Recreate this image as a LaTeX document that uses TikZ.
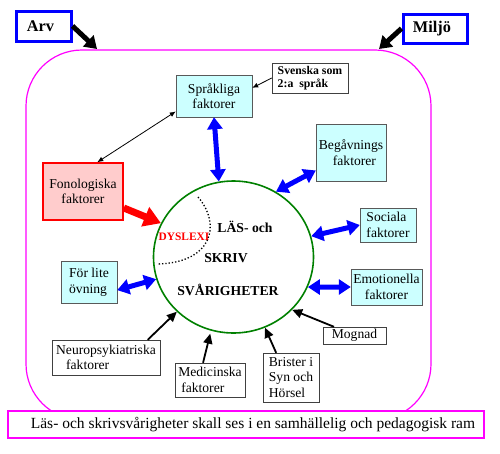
\documentclass[tikz,border=0pt]{standalone}
\usepackage{fontspec}
\setmainfont{Liberation Serif}
\usetikzlibrary{arrows.meta,shadows,shapes.geometric}

\definecolor{ljuscyan}{HTML}{CCFFFF}
\definecolor{ljusrosa}{HTML}{FFCCCC}
\definecolor{ramfarg}{HTML}{FF00FF}
\definecolor{ringfarg}{HTML}{008000}

\tikzset{
  stil diagram/.style={
      x=1pt, y=-1pt,
      every node/.style={font={\fontsize{13.6}{15.5}\selectfont}},
      ruta/.style={draw=black!75, fill=white, inner sep=1pt, align=left,
          drop shadow={shadow xshift=1pt, shadow yshift=-1pt, fill=gray, opacity=.7}},
      faktor/.style={ruta, fill=ljuscyan, draw=gray!70!black},
      huvud/.style={draw=blue, line width=3pt, fill=white, inner sep=1pt,
          font={\bfseries\fontsize{16.3}{18}\selectfont}},
      ringtext/.style={font={\bfseries\fontsize{13.7}{15}\selectfont}},
      dubbelpil/.style={{Triangle[width=15pt,length=12pt]}-{Triangle[width=15pt,length=12pt]},
          blue, line width=5pt},
      tjockpil/.style={-{Triangle[width=15pt,length=12pt]}, line width=5pt},
      rodpil/.style={-{Triangle[width=20pt,length=17pt]}, red, line width=7pt},
      pil/.style={-{Triangle[width=9pt,length=10pt]}, line width=1.8pt},
      tunnpil/.style={-{Latex[width=5pt,length=6pt]}, line width=.8pt},
    },
}

\begin{document}
\begin{tikzpicture}[stil diagram]
  \useasboundingbox (0,0) rectangle (500,453);

  \node[draw=ramfarg, line width=1.2pt, rounded corners=56pt,
        minimum width=405pt, minimum height=370pt] (ram) at (228.5,235) {};
  \node[draw=ramfarg, line width=1.5pt, fill=white, minimum width=476pt,
        minimum height=27pt, font={\fontsize{15.5}{17}\selectfont}] (ramtext) at (246,424.5)
        {\hspace*{14pt}Läs- och skrivsvårigheter skall ses i en samhällelig och pedagogisk ram};

  \node[huvud, minimum width=55pt, minimum height=30pt] (arv) at (43.5,26) {Arv\hspace*{6pt}};
  \node[huvud, minimum width=64pt, minimum height=29pt] (miljo) at (435,28.5) {Miljö\hspace*{6pt}};
  \coordinate (arvmal) at (97,49);
  \coordinate (miljomal) at (379,49);

  \node[ellipse, draw=ringfarg, line width=1.6pt, minimum width=160pt,
        minimum height=152pt] (cirkel) at (233.5,257) {};
  \node[ringtext] (las) at (245,227) {LÄS- och};
  \node[ringtext] (skriv) at (226,258) {SKRIV};
  \node[ringtext] (svar) at (228,290) {SVÅRIGHETER};
  \node[text=red, font={\bfseries\fontsize{11.4}{13}\selectfont}] (dyslexi) at (184,237) {DYSLEXI};
  \draw[dotted, line width=1.3pt] (198,197) .. controls (222,225) and (212,263) .. (157,264);

  \node[faktor, minimum width=76pt, minimum height=42pt, align=center] (sprak) at (214,96) {Språkliga\\ faktorer};
  \node[ruta, minimum width=76pt, minimum height=30pt,
        font={\bfseries\fontsize{11.8}{13}\selectfont}] (svenska) at (310,78) {Svenska som\\2:a\ \ språk};
  \node[faktor, minimum width=70pt, minimum height=57pt, align=center] (begavning) at (351,152.5) {Begåvnings\\ \ \ faktorer};
  \node[ruta, fill=ljusrosa, draw=red, line width=1.5pt, drop shadow={opacity=0},
        minimum width=80pt, minimum height=57pt, align=center] (fono) at (83,191.5) {Fonologiska\\faktorer};
  \node[faktor, minimum width=56pt, minimum height=42pt] (ovning) at (89,282) {För lite\\övning};
  \node[faktor, minimum width=56pt, minimum height=34pt] (sociala) at (388,225) {Sociala\\faktorer};
  \node[faktor, minimum width=71pt, minimum height=36pt, align=center] (emotion) at (386.5,287) {Emotionella\\faktorer};
  \node[ruta, minimum width=108pt, minimum height=35pt] (neuro) at (106,357.5) {Neuropsykiatriska\\\hspace*{10pt}faktorer};
  \node[ruta, minimum width=70pt, minimum height=34pt] (medicin) at (210,380) {Medicinska\\\hspace*{3pt}faktorer};
  \node[ruta, minimum width=56pt, minimum height=49pt] (brister) at (291,377.5) {Brister i\\Syn och\\Hörsel};
  \node[ruta, minimum width=63pt, minimum height=17pt] (mognad) at (354.5,335.5) {Mognad};

  \draw[tjockpil] (arv.east) -- (arvmal);
  \draw[tjockpil] (miljo.west) -- (miljomal);

  \draw[dubbelpil] (sprak.south) -- (cirkel.101);
  \draw[dubbelpil] (begavning.207) -- (cirkel.57);
  \draw[dubbelpil] (sociala.west) -- (cirkel.15);
  \draw[dubbelpil] (emotion.west) -- (cirkel.-22);
  \draw[dubbelpil] (ovning.-16) -- (cirkel.196);
  \draw[rodpil] (fono.-22) -- (cirkel.155);

  \draw[tunnpil, {Latex[width=5pt,length=6pt]}-{Latex[width=5pt,length=6pt]}] (sprak.202) -- (fono.64);
  \draw[tunnpil] (svenska.west) -- (sprak.12);

  \draw[pil] (neuro.23) -- (cirkel.224);
  \draw[pil, shorten >=3pt] (medicin.112) -- (cirkel.253);
  \draw[pil] (brister.121) -- (cirkel.294);
  \draw[pil] (mognad.157) -- (cirkel.318);
\end{tikzpicture}
\end{document}
